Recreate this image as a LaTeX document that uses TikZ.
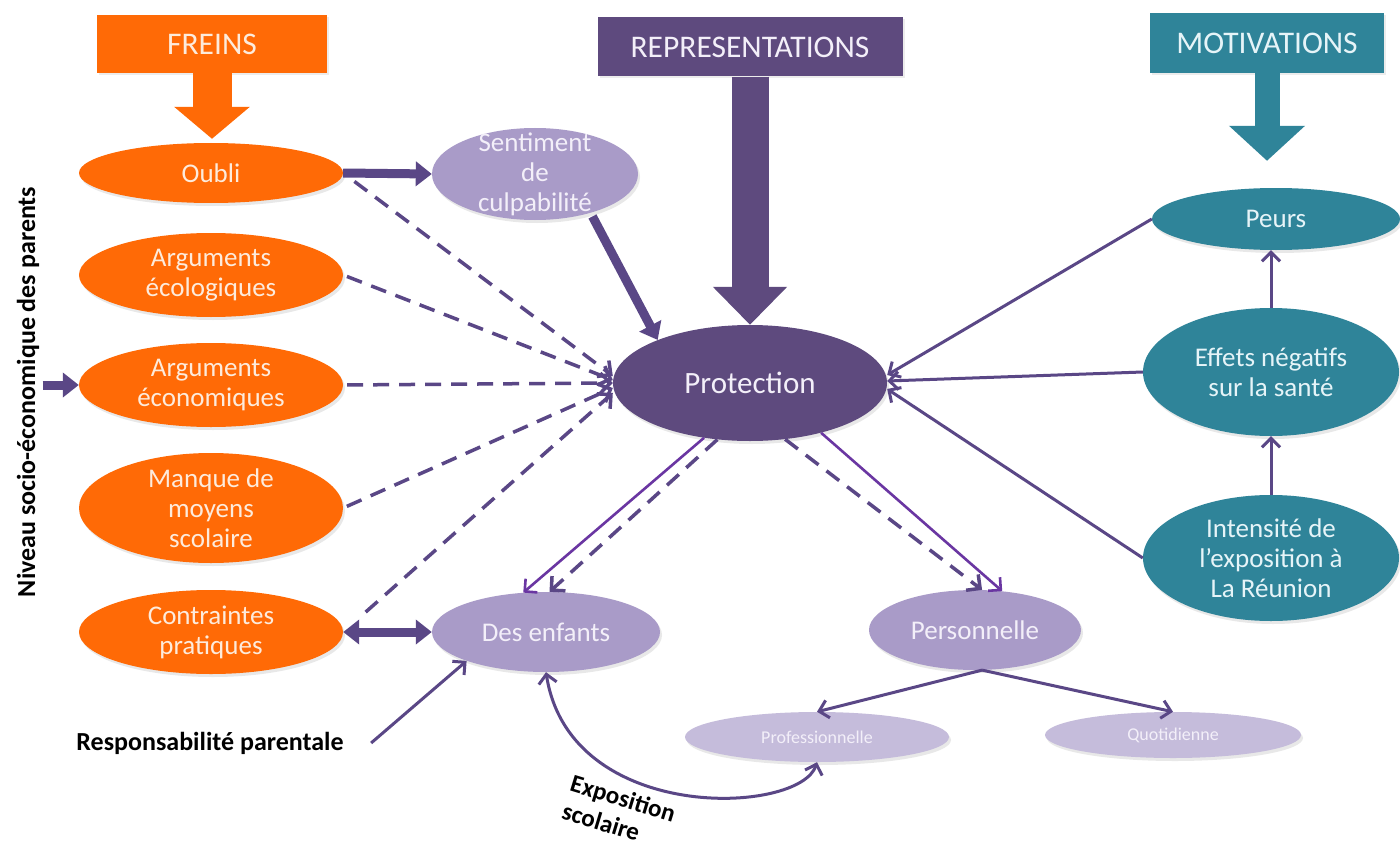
\documentclass[tikz,border=0pt]{standalone}
\usepackage{fontspec}
\setmainfont{Carlito}
\usetikzlibrary{arrows.meta,shapes.geometric,shadows}
\definecolor{orng}{HTML}{FF6A06}
\definecolor{dpurp}{HTML}{5E4A7E}
\definecolor{lpurp}{HTML}{A99BC8}
\definecolor{llpurp}{HTML}{C5BCDB}
\definecolor{tealc}{HTML}{2F8499}
\definecolor{lnp}{HTML}{5A4786}
\definecolor{vio}{HTML}{6A36A2}
\definecolor{txtor}{HTML}{FDEBDC}
\definecolor{txtpu}{HTML}{F3EFF9}
\definecolor{txtte}{HTML}{E6F4F8}
\begin{document}
\begin{tikzpicture}[x=1pt,y=-1pt,
  every node/.style={font=\fontsize{27}{30}\selectfont, align=center},
  oval/.style n args={3}{ellipse, minimum width=#1, minimum height=#2, inner sep=0pt, fill=#3, draw=none,
      drop shadow={opacity=0.18, shadow xshift=2pt, shadow yshift=-3pt}},
  tbox/.style n args={3}{rectangle, minimum width=#1, minimum height=#2, inner sep=0pt, fill=#3,
      font=\fontsize{31.5}{34}\selectfont, drop shadow={opacity=0.15, shadow xshift=2pt, shadow yshift=-2pt}},
  otx/.style={text=txtor},
  ptx/.style={text=txtpu},
  ttx/.style={text=txtte},
  boldtx/.style={font=\bfseries\fontsize{26}{28}\selectfont, text=black},
  thinarr/.style={lnp, line width=3pt, -{Straight Barb[length=9pt,width=18pt]}},
  vioarr/.style={vio, line width=2.6pt, -{Straight Barb[length=9pt,width=18pt]}},
  dasharr/.style={lnp, line width=3.5pt, dash pattern=on 16pt off 10pt, -{Straight Barb[length=10pt,width=20pt]}},
  thickarr/.style={lnp, line width=9pt, -{Triangle[length=16pt,width=24pt]}},
]
\useasboundingbox[fill=white] (0,0) rectangle (1400,848);

% title boxes
\node[tbox={230pt}{58pt}{orng}, otx] (freins) at (212,44) {FREINS};
\node[tbox={305pt}{59pt}{dpurp}, ptx] (repr) at (750,47) {REPRESENTATIONS};
\node[tbox={234pt}{60pt}{tealc}, ttx] (motiv) at (1267,43) {MOTIVATIONS};

% orange ellipses
\node[oval={264pt}{60pt}{orng}, label={[otx]center:Oubli}] (oubli) at (211,173) {};
\node[oval={264pt}{84pt}{orng}, label={[otx]center:{Arguments\\écologiques}}] (argeco) at (211,275) {};
\node[oval={264pt}{84pt}{orng}, label={[otx]center:{Arguments\\économiques}}] (argecon) at (211,385) {};
\node[oval={264pt}{110pt}{orng}, label={[otx]center:{Manque de\\moyens\\scolaire}}] (manque) at (211,508) {};
\node[oval={264pt}{84pt}{orng}, label={[otx]center:{Contraintes\\pratiques}}] (contr) at (211,632) {};

% purple ellipses
\node[oval={206pt}{92pt}{lpurp}, label={[ptx]center:{Sentiment\\de\\culpabilité}}] (sent) at (535,174) {};
\node[oval={274pt}{116pt}{dpurp}, label={[ptx,font=\fontsize{31}{34}\selectfont]center:Protection}] (prot) at (750,383) {};
\node[oval={228pt}{80pt}{lpurp}, label={[ptx]center:Des enfants}] (desenf) at (546,632) {};
\node[oval={212pt}{80pt}{lpurp}, label={[ptx]center:Personnelle}] (pers) at (975,630) {};
\node[oval={264pt}{50pt}{llpurp}, label={[ptx,font=\fontsize{18}{20}\selectfont]center:Professionnelle}] (prof) at (817,737) {};
\node[oval={256pt}{46pt}{llpurp}, label={[ptx,font=\fontsize{18}{20}\selectfont]center:Quotidienne}] (quot) at (1173,735) {};

% teal ellipses
\node[oval={248pt}{62pt}{tealc}, label={[ttx]center:Peurs}] (peurs) at (1276,219) {};
\node[oval={256pt}{128pt}{tealc}, label={[ttx]center:{Effets négatifs\\sur la santé}}] (effets) at (1271,372) {};
\node[oval={256pt}{126pt}{tealc}, label={[ttx]center:{Intensité de\\l’exposition à\\La Réunion}}] (intens) at (1271,558) {};

% free texts
\node[boldtx, rotate=90] (niveau) at (28,392) {Niveau socio-économique des parents};
\node[boldtx] (resp) at (210,743) {Responsabilité parentale};
\node[boldtx, font=\bfseries\fontsize{25}{29}\selectfont, rotate=-17, align=left] (expo) at (619,812) {Exposition\\scolaire};

% block arrows
\draw[orng, line width=39pt, -{Triangle[length=32pt,width=74pt]}] (freins.south) -- ([yshift=4pt]freins.south |- oubli.north);
\draw[dpurp, line width=37pt, -{Triangle[length=38pt,width=72pt]}] (repr.south) -- (repr.south |- prot.north);
\draw[tealc, line width=25pt, -{Triangle[length=35pt,width=74pt]}] (motiv.south) -- ([yshift=27pt]motiv.south |- peurs.north);

% thick arrows
\draw[thickarr] (oubli.east) -- (sent.west);
\draw[thickarr, shorten <=4pt] (sent.-35) -- (prot.155);
\draw[thickarr] (niveau.south |- argecon.west) -- (argecon.west);
\draw[thickarr, {Triangle[length=16pt,width=24pt]}-{Triangle[length=16pt,width=24pt]}] (contr.east) -- (desenf.west);

% dashed arrows to Protection
\draw[dasharr, shorten <=14pt] (oubli.east) -- ([yshift=7pt]prot.west);
\draw[dasharr, shorten <=4pt] (argeco.east) -- ([yshift=3pt]prot.west);
\draw[dasharr, shorten <=4pt] (argecon.east) -- (prot.west);
\draw[dasharr, shorten <=4pt] (manque.east) -- ([yshift=-5pt]prot.west);
\draw[dasharr, shorten <=30pt] (contr.east) -- ([yshift=-10pt]prot.west);

% right side
\draw[thinarr] (peurs.west) -- ([yshift=8pt]prot.east);
\draw[thinarr] (effets.west) -- ([yshift=2pt]prot.east);
\draw[thinarr] (intens.west) -- ([yshift=-6pt]prot.east);
\draw[thinarr] (effets.north) -- (effets.north |- peurs.south);
\draw[thinarr] (intens.north) -- (effets.south);

% protection to children / personal
\draw[vioarr] (prot.-130) -- (desenf.120);
\draw[dasharr] (prot.-120) -- (desenf.85);
\draw[vioarr] (prot.-35) -- (pers.55);
\draw[dasharr] (prot.-58) -- (pers.80);

% personal split
\draw[thinarr] (pers.-80) -- (prof.north);
\draw[thinarr] (pers.-80) -- (quot.north);

% responsibility and exposure
\draw[thinarr] ([xshift=24pt]resp.east) -- (desenf.-160);
\draw[thinarr, {Straight Barb[length=9pt,width=18pt]}-{Straight Barb[length=9pt,width=18pt]}]
  (desenf.south) .. controls (570,825) and (800,815) .. (prof.south);
\end{tikzpicture}
\end{document}
